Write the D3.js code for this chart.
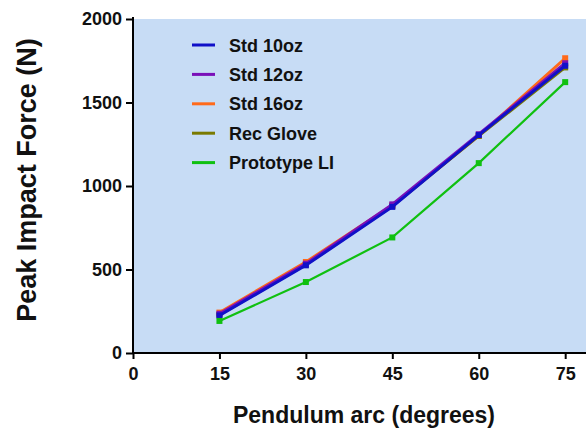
<!DOCTYPE html>
<html><head><meta charset="utf-8">
<script src="https://cdn.jsdelivr.net/npm/d3@7"></script>
<style>body{margin:0;background:#fff;}svg{display:block;font-family:"Liberation Sans",Arial,sans-serif;}</style>
</head><body><svg id="c" width="586" height="430"></svg>
<script>
const arcs = [15, 30, 45, 60, 75];
const seriesNames = ["Std 10oz", "Std 12oz", "Std 16oz", "Rec Glove", "Prototype LI"];
const std10 = [225, 525, 875, 1305, 1720];
const std12 = [235, 535, 890, 1310, 1735];
const std16 = [242, 545, 885, 1300, 1765];
const recGlove = [228, 530, 880, 1300, 1710];
const protoLI = [192, 425, 692, 1137, 1622];
const colors = ["#1010C8", "#7A10B8", "#FF6A1A", "#7A7A00", "#10C010"];
const xTicks = [0, 15, 30, 45, 60, 75];
const yTicks = [0, 500, 1000, 1500, 2000];

const data = [std10, std12, std16, recGlove, protoLI];
const svg = d3.select("#c");
const x = d3.scaleLinear().domain([0, 80]).range([133, 594]);
const y = d3.scaleLinear().domain([0, 2000]).range([353, 19]);

svg.append("rect").attr("x", x(0)).attr("y", y(2000)).attr("width", 586 - x(0)).attr("height", y(0) - y(2000)).attr("fill", "#C7DCF5");

const line = d3.line().x((d, i) => x(arcs[i])).y(d => y(d));
const drawOrder = [2, 3, 1, 0, 4];
drawOrder.forEach(k => {
  svg.append("path").datum(data[k]).attr("d", line).attr("fill", "none").attr("stroke", colors[k]).attr("stroke-width", k === 4 ? 2.2 : 3);
  svg.selectAll(null).data(data[k]).enter().append("rect")
    .attr("x", (d, i) => x(arcs[i]) - 3).attr("y", d => y(d) - 3)
    .attr("width", 6).attr("height", 6).attr("fill", colors[k]);
});

const fmt = d3.format("d");
const xa = svg.append("g").attr("transform", `translate(0,${y(0)})`)
  .call(d3.axisBottom(x).tickValues(xTicks).tickFormat(fmt).tickSize(6).tickPadding(8).tickSizeOuter(0));
const ya = svg.append("g").attr("transform", `translate(${x(0)},0)`)
  .call(d3.axisLeft(y).tickValues(yTicks).tickFormat(fmt).tickSize(7).tickPadding(4).tickSizeOuter(0));
[xa, ya].forEach(a => {
  a.select(".domain").attr("stroke", "#000").attr("stroke-width", 2);
  a.selectAll(".tick line").attr("stroke", "#000").attr("stroke-width", 2);
  a.selectAll("text").attr("font-size", 18).attr("font-weight", "bold").attr("fill", "#111").attr("font-family", "Liberation Sans, Arial, sans-serif");
});
xa.select(".domain").attr("d", `M${x(0)},0H586`);
ya.select(".domain").attr("d", `M0,${y(0)}V${y(2000)-2}`);

svg.append("text").attr("x", 364).attr("y", 423).attr("text-anchor", "middle")
  .attr("font-size", 23).attr("font-weight", "bold").attr("fill", "#111").text("Pendulum arc (degrees)");
svg.append("text").attr("transform", "translate(36,180) rotate(-90)").attr("text-anchor", "middle")
  .attr("font-size", 27).attr("font-weight", "bold").attr("fill", "#111").text("Peak Impact Force (N)");

const leg = svg.append("g");
seriesNames.forEach((n, i) => {
  const yy = 45 + i * 29.4;
  leg.append("line").attr("x1", 192).attr("x2", 215).attr("y1", yy).attr("y2", yy).attr("stroke", colors[i]).attr("stroke-width", 3);
  leg.append("text").attr("x", 229).attr("y", yy + 6.5).attr("font-size", 18).attr("font-weight", "bold").attr("fill", "#111").text(n);
});
</script></body></html>
